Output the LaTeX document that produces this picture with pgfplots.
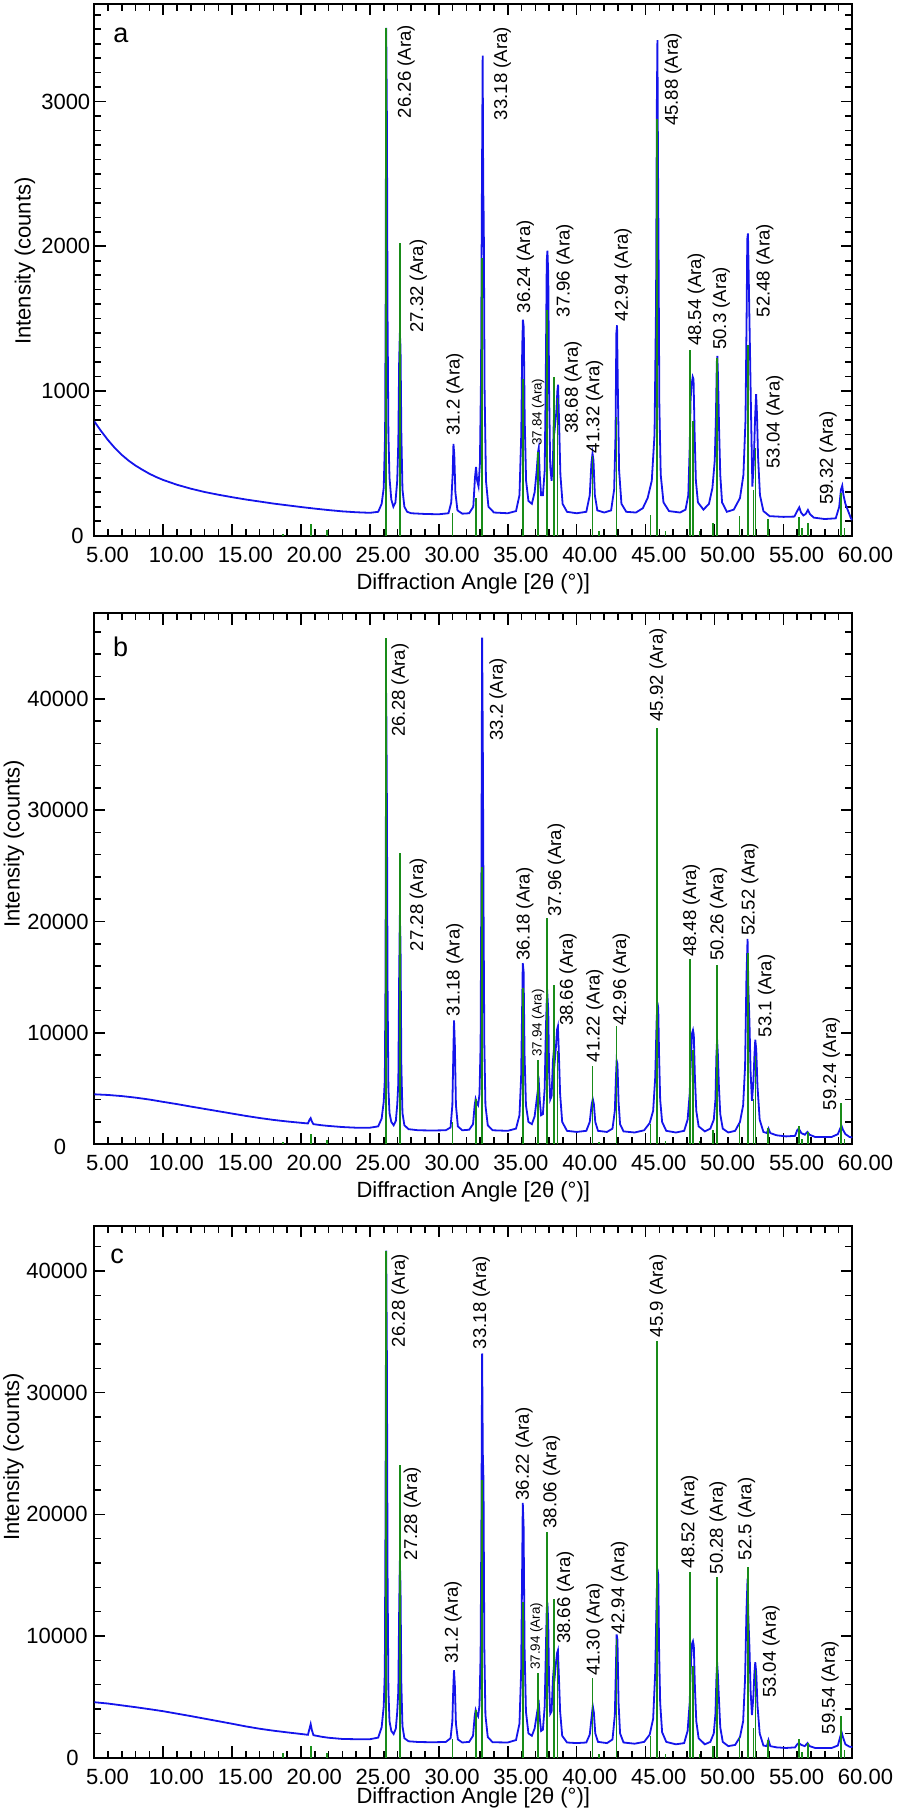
\documentclass[border=0pt]{standalone}
\usepackage{fontspec}
\setmainfont{Liberation Sans}
\usepackage{pgfplots}
\pgfplotsset{compat=1.18}
\definecolor{xblue}{RGB}{20,20,235}
\definecolor{xgreen}{RGB}{25,140,25}
\pgfplotsset{
  xrd/.style={
    scale only axis, width=379pt, anchor=south west,
    xmin=5, xmax=60,
    xtick={5,10,...,60},
    xticklabels={5.00,10.00,15.00,20.00,25.00,30.00,35.00,40.00,45.00,50.00,55.00,60.00},
    minor xtick={5,6,...,60},
    scaled y ticks=false, scaled x ticks=false,
    tick align=inside,
    major tick length=5.6pt, minor tick length=3.5pt,
    axis line style={line width=1pt},
    tick style={black, line width=0.8pt},
    tick label style={font=\fontsize{11}{13}\selectfont},
    xticklabel style={xshift=6.6pt, yshift=-2pt},
    /pgf/number format/assume math mode=true,
    label style={font=\fontsize{11}{13}\selectfont},
    xlabel={Diffraction Angle [2θ (°)]},
    ylabel={Intensity (counts)},
    xlabel style={anchor=center},
    ylabel style={anchor=center},
    extra y ticks={0}, extra y tick labels={0},
  },
  blueline/.style={xblue, line width=0.9pt},
  sticks/.style={xgreen, line width=0.8pt, ycomb},
}
\tikzset{
  pk/.style={rotate=90, anchor=west, inner sep=0pt, font=\fontsize{9.3}{11}\selectfont},
  pks/.style={rotate=90, anchor=west, inner sep=0pt, font=\fontsize{6.7}{8}\selectfont},
  letter/.style={anchor=base west, inner sep=0pt, font=\fontsize{13.5}{16}\selectfont},
}
\begin{document}
\begin{tikzpicture}
\path[use as bounding box] (0,0) rectangle (448pt,907.5pt);
% ---------------- panel a ----------------
\begin{axis}[xrd, at={(47.15pt,639.65pt)}, height=265.95pt,
  ymin=0, ymax=3676,
  ytick={1000,2000,3000}, yticklabels={1000,2000,3000},
  minor ytick={100,200,...,3600},
  yticklabel style={xshift=1.5pt},
  extra y tick style={yticklabel style={xshift=-3.35pt}},
  ylabel style={at={(axis description cs:-0.0914,0.5162)}},
  xlabel style={at={(axis description cs:0.5,-0.0900)}}]
\addplot[blueline] coordinates {
(5.0,790)(5.5,722)(6.0,660)(6.5,605)(7.0,558)(7.5,518)(8.0,484)(8.5,455)(9.0,428)(9.5,405)(10.0,385)(11.0,352)(12.0,325)(13.0,302)(14.0,283)(15.0,266)(16.0,250)(17.0,236)(18.0,222)(19.0,210)(20.0,198)(21.0,187)(22.0,177)(23.0,168)(24.0,162)(25.0,158)(25.6,165)(25.85,220)(26.0,330)(26.1,700)(26.14,1600)(26.18,3510)(26.23,2900)(26.28,1500)(26.34,700)(26.42,400)(26.55,250)(26.7,200)(26.85,230)(26.98,380)(27.06,650)(27.12,1200)(27.17,1401)(27.22,1300)(27.28,700)(27.36,320)(27.5,200)(27.7,165)(28.0,155)(29.0,150)(30.0,148)(30.7,155)(30.9,230)(31.0,420)(31.06,634)(31.12,560)(31.2,300)(31.35,175)(31.7,152)(32.2,155)(32.5,200)(32.62,400)(32.7,475)(32.78,380)(32.88,340)(32.98,500)(33.06,1100)(33.12,2300)(33.18,3318)(33.22,2400)(33.26,2168)(33.32,1000)(33.42,380)(33.6,200)(34.0,160)(35.0,155)(35.6,170)(35.85,280)(35.98,700)(36.05,1300)(36.1,1493)(36.16,1440)(36.23,800)(36.33,380)(36.5,240)(36.75,220)(36.95,300)(37.1,450)(37.2,580)(37.25,607)(37.32,420)(37.42,280)(37.55,280)(37.68,450)(37.76,1100)(37.83,1900)(37.88,1970)(37.94,1800)(38.0,1000)(38.08,480)(38.18,380)(38.28,520)(38.34,800)(38.42,750)(38.52,850)(38.6,1000)(38.65,1044)(38.72,800)(38.82,420)(38.98,220)(39.3,165)(40.0,155)(40.7,165)(40.95,280)(41.07,500)(41.15,568)(41.22,520)(41.32,280)(41.5,175)(42.0,160)(42.5,175)(42.72,320)(42.82,700)(42.88,1400)(42.93,1454)(42.99,1000)(43.08,450)(43.25,220)(43.6,165)(44.3,160)(44.8,190)(45.15,260)(45.45,380)(45.65,700)(45.76,1600)(45.82,3000)(45.86,3424)(45.9,2600)(45.94,1996)(46.0,900)(46.1,420)(46.3,230)(46.7,170)(47.5,160)(47.9,180)(48.1,280)(48.2,600)(48.27,950)(48.35,1050)(48.42,1097)(48.48,1080)(48.56,700)(48.65,380)(48.8,230)(49.2,180)(49.6,220)(49.85,330)(50.02,520)(50.1,800)(50.17,1200)(50.21,1242)(50.27,1050)(50.33,753)(50.42,420)(50.55,230)(50.9,165)(51.4,180)(51.85,260)(52.1,420)(52.25,800)(52.33,1500)(52.38,2050)(52.43,2089)(52.5,1700)(52.58,1255)(52.66,800)(52.75,340)(52.85,500)(52.94,800)(53.02,978)(53.08,850)(53.16,550)(53.3,280)(53.55,170)(54.0,135)(55.0,130)(55.8,132)(56.0,170)(56.15,196)(56.28,160)(56.45,140)(56.62,150)(56.78,178)(56.92,150)(57.2,125)(58.0,115)(58.8,120)(59.05,200)(59.18,320)(59.27,346)(59.36,280)(59.5,220)(59.7,170)(59.9,120)(60.0,108)
};
\addplot[sticks] coordinates {
(18.7,15)(20.72,78)(21.9,40)(26.17,3512)(27.18,2022)(31.0,157)(32.7,263)(33.12,1917)(36.1,1083)(37.2,581)(37.86,1560)(38.34,1097)(38.62,951)(41.16,554)(41.6,30)(42.9,819)(45.35,144)(45.85,2882)(46.45,30)(48.24,1282)(48.44,790)(48.9,30)(49.9,86)(50.18,1229)(51.82,136)(52.42,1321)(52.82,316)(52.97,607)(53.9,115)(56.12,131)(56.35,53)(56.8,90)(59.18,295)(59.42,53)
};
\node[letter] at (rel axis cs:0.0247,0.928) {a};
\node[pk] at (axis cs:27.62,2883) {26.26 (Ara)};
\node[pk] at (axis cs:28.51,1400) {27.32 (Ara)};
\node[pk] at (axis cs:31.15,688) {31.2 (Ara)};
\node[pk] at (axis cs:34.6,2869) {33.18 (Ara)};
\node[pk] at (axis cs:36.28,1534) {36.24 (Ara)};
\node[pks] at (axis cs:37.2,620) {37.84 (Ara)};
\node[pk] at (axis cs:39.14,1507) {37.96 (Ara)};
\node[pk] at (axis cs:39.74,700) {38.68 (Ara)};
\node[pk] at (axis cs:41.3,568) {41.32 (Ara)};
\node[pk] at (axis cs:43.37,1480) {42.94 (Ara)};
\node[pk] at (axis cs:47.0,2829) {45.88 (Ara)};
\node[pk] at (axis cs:48.69,1309) {48.54 (Ara)};
\node[pk] at (axis cs:50.5,1282) {50.3 (Ara)};
\node[pk] at (axis cs:53.65,1507) {52.48 (Ara)};
\node[pk] at (axis cs:54.38,462) {53.04 (Ara)};
\node[pk] at (axis cs:58.24,211) {59.32 (Ara)};
\end{axis}
% ---------------- panel b ----------------
\begin{axis}[xrd, at={(47.15pt,335.4pt)}, height=265.35pt,
  ymin=0, ymax=47660,
  ytick={10000,20000,30000,40000}, yticklabels={10000,20000,30000,40000},
  minor ytick={2000,4000,...,46000},
  yticklabel style={xshift=0.65pt},
  extra y tick style={yticklabel style={xshift=-11.15pt, yshift=-1.25pt}},
  ylabel style={at={(axis description cs:-0.1059,0.566)}},
  xlabel style={at={(axis description cs:0.5,-0.0904)}}]
\addplot[blueline] coordinates {
(5.0,4480)(6.0,4420)(7.0,4320)(8.0,4180)(9.0,4010)(10.0,3800)(11.0,3600)(12.0,3380)(13.0,3170)(14.0,2960)(15.0,2750)(16.0,2540)(17.0,2350)(18.0,2180)(19.0,2040)(20.0,1920)(20.5,1860)(20.62,2200)(20.7,2340)(20.78,2050)(20.9,1800)(21.5,1700)(22.0,1640)(23.0,1540)(24.0,1480)(25.0,1480)(25.6,1600)(25.85,2300)(26.0,3800)(26.08,5800)(26.13,15000)(26.18,40500)(26.23,31000)(26.28,14000)(26.34,5000)(26.42,2800)(26.55,2000)(26.72,1700)(26.88,2100)(26.98,3540)(27.06,5500)(27.12,15000)(27.17,20564)(27.22,18000)(27.28,7000)(27.36,2800)(27.5,1700)(27.8,1350)(28.5,1250)(29.5,1230)(30.5,1250)(30.85,1500)(30.98,3500)(31.05,8000)(31.1,11108)(31.16,9000)(31.24,3500)(31.38,1600)(31.7,1250)(32.2,1300)(32.48,1800)(32.6,3500)(32.67,4055)(32.75,3700)(32.85,3500)(32.95,4500)(33.03,9000)(33.09,25000)(33.14,45496)(33.19,36000)(33.24,22000)(33.3,9000)(33.38,3500)(33.55,1700)(33.9,1250)(35.0,1200)(35.6,1400)(35.85,2600)(35.97,6000)(36.04,12000)(36.09,16265)(36.15,15500)(36.22,8000)(36.32,3500)(36.5,2000)(36.75,1800)(36.95,2500)(37.1,4000)(37.2,5000)(37.26,5430)(37.32,4000)(37.42,2600)(37.55,2700)(37.68,5000)(37.76,10000)(37.83,13000)(37.88,13340)(37.94,12000)(38.0,6500)(38.08,4000)(38.18,4300)(38.28,7500)(38.34,8350)(38.42,7600)(38.5,8800)(38.58,10300)(38.64,10590)(38.7,8500)(38.8,4500)(38.95,2000)(39.3,1200)(40.0,1100)(40.7,1200)(40.95,2000)(41.08,3500)(41.17,4055)(41.25,3600)(41.35,2000)(41.55,1200)(42.2,1100)(42.6,1400)(42.77,3000)(42.85,6000)(42.9,7495)(42.96,7200)(43.04,3800)(43.15,1800)(43.4,1150)(44.2,1050)(44.9,1250)(45.3,1900)(45.55,3000)(45.7,6000)(45.8,11000)(45.86,12722)(45.92,12200)(45.98,8000)(46.06,4000)(46.2,2000)(46.5,1200)(47.2,1050)(47.8,1200)(48.05,2200)(48.2,4500)(48.3,8000)(48.38,10000)(48.44,10245)(48.5,9800)(48.58,6000)(48.68,3000)(48.85,1600)(49.3,1150)(49.7,1400)(49.95,2200)(50.07,4000)(50.14,8000)(50.19,9387)(50.25,8000)(50.32,5200)(50.42,2700)(50.6,1400)(51.0,1050)(51.5,1200)(51.85,2000)(52.08,3500)(52.22,7000)(52.32,15000)(52.4,18430)(52.46,14000)(52.54,10933)(52.62,6500)(52.72,3900)(52.82,5500)(52.9,8000)(52.96,9387)(53.03,8500)(53.12,5200)(53.28,2200)(53.55,1100)(53.8,1000)(53.92,1400)(54.05,1000)(54.5,800)(55.2,700)(55.85,750)(56.0,1250)(56.12,1400)(56.3,1000)(56.55,850)(56.75,1100)(56.9,850)(57.3,650)(58.5,650)(58.95,900)(59.12,1400)(59.22,1650)(59.32,1300)(59.5,900)(59.8,650)(60.0,600)
};
\addplot[sticks] coordinates {
(18.7,200)(20.72,930)(21.9,413)(26.17,45500)(27.18,26135)(31.0,1990)(32.7,4055)(33.12,24860)(36.1,14030)(37.2,7530)(37.86,20288)(38.34,14300)(38.62,8350)(41.16,7050)(41.6,240)(42.9,10590)(45.35,1820)(45.85,37346)(46.45,270)(48.24,16608)(48.44,8500)(48.9,300)(49.9,1270)(50.18,16093)(51.82,1820)(52.42,17125)(52.82,4055)(52.97,7907)(53.9,1475)(56.12,1650)(56.35,500)(56.8,1135)(59.18,3710)(59.42,500)
};
\node[letter] at (rel axis cs:0.0243,0.918) {b};
\node[pk] at (axis cs:27.18,36555) {26.28 (Ara)};
\node[pk] at (axis cs:28.51,17296) {27.28 (Ara)};
\node[pk] at (axis cs:31.15,11450) {31.18 (Ara)};
\node[pk] at (axis cs:34.3,36211) {33.2 (Ara)};
\node[pk] at (axis cs:36.23,16437) {36.18 (Ara)};
\node[pks] at (axis cs:37.2,7840) {37.94 (Ara)};
\node[pk] at (axis cs:38.53,20392) {37.96 (Ara)};
\node[pk] at (axis cs:39.37,10590) {38.66 (Ara)};
\node[pk] at (axis cs:41.31,7323) {41.22 (Ara)};
\node[pk] at (axis cs:43.24,10590) {42.96 (Ara)};
\node[pk] at (axis cs:45.9,37930) {45.92 (Ara)};
\node[pk] at (axis cs:48.32,16780) {48.48 (Ara)};
\node[pk] at (axis cs:50.3,16437) {50.26 (Ara)};
\node[pk] at (axis cs:52.56,18672) {52.52 (Ara)};
\node[pk] at (axis cs:53.77,9560) {53.1 (Ara)};
\node[pk] at (axis cs:58.48,3025) {59.24 (Ara)};
\end{axis}
% ---------------- panel c ----------------
\begin{axis}[xrd, at={(47.15pt,28.65pt)}, height=265.85pt,
  ymin=0, ymax=43700,
  ytick={10000,20000,30000,40000}, yticklabels={10000,20000,30000,40000},
  minor ytick={2000,4000,...,42000},
  yticklabel style={xshift=0.15pt},
  extra y tick style={yticklabel style={xshift=-4.5pt}},
  ylabel style={at={(axis description cs:-0.1066,0.5658)}},
  xlabel style={at={(axis description cs:0.5,-0.0752)}}]
\addplot[blueline] coordinates {
(5.0,4560)(6.0,4450)(7.0,4300)(8.0,4150)(9.0,3990)(10.0,3820)(11.0,3620)(12.0,3420)(13.0,3210)(14.0,3000)(15.0,2790)(16.0,2570)(17.0,2380)(18.0,2220)(19.0,2080)(20.0,1950)(20.5,1880)(20.62,2400)(20.7,2760)(20.78,2300)(20.9,1850)(21.5,1720)(22.0,1640)(23.0,1540)(24.0,1520)(25.0,1520)(25.6,1650)(25.85,2500)(26.0,4200)(26.08,7000)(26.13,20000)(26.18,41670)(26.23,33000)(26.28,15000)(26.34,5500)(26.42,3000)(26.55,2200)(26.72,1944)(26.88,2400)(26.98,3745)(27.06,5500)(27.12,12000)(27.17,16190)(27.22,14000)(27.28,6000)(27.36,2600)(27.5,1600)(27.8,1350)(28.5,1290)(29.5,1270)(30.5,1290)(30.85,1600)(30.98,3000)(31.05,5800)(31.1,7184)(31.16,6000)(31.24,2800)(31.38,1500)(31.7,1250)(32.2,1300)(32.48,1800)(32.6,3400)(32.67,3910)(32.75,3600)(32.85,3400)(32.95,4300)(33.03,8500)(33.09,20000)(33.14,33220)(33.19,25000)(33.24,22740)(33.3,9000)(33.38,3500)(33.55,1700)(33.9,1270)(35.0,1250)(35.6,1450)(35.85,2800)(35.97,7000)(36.04,15000)(36.09,20940)(36.15,19000)(36.22,9000)(36.32,3800)(36.5,2000)(36.75,1800)(36.95,2400)(37.1,3500)(37.2,4200)(37.26,4400)(37.32,3300)(37.42,2200)(37.55,2300)(37.68,4200)(37.76,8500)(37.83,12300)(37.88,12750)(37.94,11000)(38.0,6000)(38.08,3600)(38.18,3800)(38.28,6500)(38.34,7348)(38.42,6800)(38.5,7800)(38.58,8600)(38.64,8822)(38.7,7000)(38.8,3800)(38.95,1800)(39.3,1250)(40.0,1200)(40.7,1250)(40.95,1900)(41.08,3300)(41.17,4237)(41.25,3700)(41.35,2000)(41.55,1300)(42.2,1200)(42.6,1500)(42.77,3500)(42.85,7500)(42.9,10131)(42.96,9700)(43.04,4500)(43.15,2000)(43.4,1250)(44.2,1150)(44.9,1300)(45.3,1900)(45.55,3200)(45.7,7000)(45.8,13000)(45.86,15536)(45.92,15000)(45.98,9000)(46.06,4500)(46.2,2100)(46.5,1300)(47.2,1100)(47.8,1200)(48.05,2200)(48.2,4500)(48.3,8000)(48.38,9400)(48.44,9575)(48.5,9200)(48.58,5800)(48.68,3000)(48.85,1600)(49.3,1100)(49.7,1300)(49.95,2000)(50.07,3600)(50.14,6500)(50.19,7840)(50.25,6800)(50.32,4900)(50.42,2500)(50.6,1300)(51.0,950)(51.5,1050)(51.85,1700)(52.08,3000)(52.22,6500)(52.32,12000)(52.4,14717)(52.46,11500)(52.54,9000)(52.62,5500)(52.72,3500)(52.82,5000)(52.9,7000)(52.96,7840)(53.03,7000)(53.12,4300)(53.28,2000)(53.55,1000)(53.8,950)(53.92,1450)(54.05,950)(54.5,850)(55.2,800)(55.85,850)(56.0,1100)(56.12,1205)(56.3,1050)(56.55,950)(56.75,1205)(56.9,950)(57.3,800)(58.5,800)(58.95,1000)(59.12,1700)(59.22,2108)(59.32,1700)(59.5,1100)(59.8,900)(60.0,880)
};
\addplot[sticks] coordinates {
(18.7,400)(20.72,960)(21.9,400)(26.17,41670)(27.18,24050)(31.0,1500)(32.7,3910)(33.12,22810)(36.1,12817)(37.2,6922)(37.86,18548)(38.34,13080)(38.62,8000)(41.16,6529)(41.6,300)(42.9,9738)(45.35,1780)(45.85,34268)(46.45,300)(48.24,15273)(48.44,7500)(48.9,300)(49.9,1000)(50.18,14815)(51.82,1725)(52.42,15700)(52.82,2440)(52.97,7200)(53.9,1450)(56.12,1540)(56.35,450)(56.8,1205)(59.18,3430)(59.42,660)
};
\node[letter] at (rel axis cs:0.0207,0.929) {c};
\node[pk] at (axis cs:27.18,33712) {26.28 (Ara)};
\node[pk] at (axis cs:28.08,16190) {27.28 (Ara)};
\node[pk] at (axis cs:31.03,7700) {31.2 (Ara)};
\node[pk] at (axis cs:33.08,33548) {33.18 (Ara)};
\node[pk] at (axis cs:36.18,21103) {36.22 (Ara)};
\node[pks] at (axis cs:37.08,7184) {37.94 (Ara)};
\node[pk] at (axis cs:38.17,18811) {38.06 (Ara)};
\node[pk] at (axis cs:39.18,9313) {38.66 (Ara)};
\node[pk] at (axis cs:41.31,6693) {41.30 (Ara)};
\node[pk] at (axis cs:43.12,10131) {42.94 (Ara)};
\node[pk] at (axis cs:45.9,34530) {45.9 (Ara)};
\node[pk] at (axis cs:48.2,15536) {48.52 (Ara)};
\node[pk] at (axis cs:50.26,15045) {50.28 (Ara)};
\node[pk] at (axis cs:52.32,16190) {52.5 (Ara)};
\node[pk] at (axis cs:54.1,4880) {53.04 (Ara)};
\node[pk] at (axis cs:58.38,1900) {59.54 (Ara)};
\end{axis}
\end{tikzpicture}
\end{document}
